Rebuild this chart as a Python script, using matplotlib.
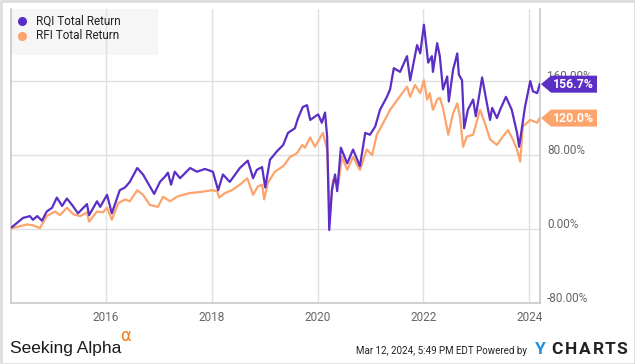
import matplotlib
matplotlib.use("Agg")
import matplotlib.pyplot as plt
from matplotlib.patches import Polygon, Rectangle
from matplotlib.transforms import IdentityTransform

plt.rcParams['font.family'] = ['Roboto', 'DejaVu Sans']

# data (decimal years, total return %)
rqi_x = [2014.22, 2014.43, 2014.56, 2014.62, 2014.70, 2014.79, 2014.88, 2014.98, 2015.07, 2015.17,
         2015.26, 2015.36, 2015.47, 2015.64, 2015.68, 2015.83, 2015.89, 2016.02, 2016.11, 2016.26,
         2016.36, 2016.45, 2016.59, 2016.70, 2016.79, 2016.91, 2017.02, 2017.12, 2017.17, 2017.23,
         2017.30, 2017.40, 2017.59, 2017.72, 2017.87, 2018.02, 2018.12, 2018.21, 2018.34, 2018.53,
         2018.68, 2018.78, 2018.85, 2018.95, 2019.01, 2019.10, 2019.23, 2019.35, 2019.44, 2019.57,
         2019.63, 2019.72, 2019.80, 2019.86, 2020.01, 2020.08, 2020.14, 2020.18, 2020.22, 2020.27,
         2020.33, 2020.37, 2020.44, 2020.56, 2020.67, 2020.80, 2020.90, 2020.99, 2021.09, 2021.18,
         2021.31, 2021.37, 2021.44, 2021.56, 2021.69, 2021.75, 2021.88, 2021.94, 2022.01, 2022.09,
         2022.16, 2022.18, 2022.26, 2022.31, 2022.37, 2022.45, 2022.48, 2022.56, 2022.64, 2022.67,
         2022.73, 2022.77, 2022.84, 2022.94, 2022.99, 2023.11, 2023.20, 2023.26, 2023.30, 2023.39,
         2023.45, 2023.56, 2023.67, 2023.77, 2023.81, 2023.92, 2024.02, 2024.07, 2024.15, 2024.20]
rqi_y = [2, 12, 14, 10, 14, 9, 19, 23, 34, 25,
         33, 26, 17, 27, 15, 30, 24, 37, 17, 42,
         45, 51, 66, 59, 50, 38, 51, 57, 61, 48,
         62, 55, 66, 62, 65, 62, 42, 59, 51, 66,
         74, 55, 64, 67, 45, 75, 84, 91, 104, 109,
         120, 132, 134, 118, 124, 115, 126, 100, -1, 42,
         59, 41, 88, 71, 86, 68, 104, 102, 111, 129,
         143, 151, 174, 170, 187, 161, 199, 190, 221, 180,
         187, 170, 201, 187, 151, 165, 138, 172, 190, 167,
         161, 109, 129, 140, 122, 164, 136, 118, 131, 120,
         129, 143, 129, 104, 89, 132, 160, 149, 147, 156.7]

rfi_x = [2014.22, 2014.37, 2014.51, 2014.62, 2014.75, 2014.88, 2015.04, 2015.13, 2015.26, 2015.38,
         2015.51, 2015.64, 2015.68, 2015.83, 2015.94, 2016.02, 2016.11, 2016.23, 2016.36, 2016.45,
         2016.59, 2016.70, 2016.83, 2016.98, 2017.08, 2017.21, 2017.34, 2017.46, 2017.59, 2017.78,
         2018.00, 2018.10, 2018.14, 2018.25, 2018.38, 2018.53, 2018.67, 2018.78, 2018.87, 2018.95,
         2018.99, 2019.06, 2019.19, 2019.35, 2019.48, 2019.61, 2019.71, 2019.76, 2019.86, 2019.95,
         2020.10, 2020.18, 2020.23, 2020.29, 2020.39, 2020.46, 2020.56, 2020.67, 2020.80, 2020.93,
         2021.03, 2021.12, 2021.27, 2021.37, 2021.46, 2021.60, 2021.69, 2021.75, 2021.84, 2021.94,
         2022.01, 2022.07, 2022.12, 2022.18, 2022.26, 2022.31, 2022.37, 2022.47, 2022.56, 2022.64,
         2022.69, 2022.75, 2022.82, 2022.94, 2023.07, 2023.16, 2023.26, 2023.39, 2023.50, 2023.60,
         2023.69, 2023.77, 2023.83, 2023.88, 2024.02, 2024.15, 2024.20]
rfi_y = [1, 3, 5, 4, 1, 14, 19, 15, 23, 16,
         14, 18, 8, 19, 18, 23, 10, 28, 32, 30,
         42, 37, 26, 24, 35, 30, 35, 37, 39, 40,
         42, 41, 34, 39, 42, 48, 55, 37, 46, 48,
         32, 50, 62, 68, 78, 82, 91, 88, 99, 89,
         104, 86, 14, 53, 48, 78, 64, 78, 64, 86,
         80, 102, 118, 129, 136, 147, 154, 143, 156, 147,
         161, 140, 147, 129, 140, 142, 131, 102, 125, 136,
         122, 89, 100, 102, 129, 115, 97, 91, 100, 107,
         97, 86, 73, 111, 118, 115, 120.0]

names = ['RQI Total Return', 'RFI Total Return']
colors = ['#5b2ec6', '#fda46c']
year_ticks = [2016, 2018, 2020, 2022, 2024]
y_ticks = [-80, 0, 80, 160]
y_labels = ['-80.00%', '0.00%', '80.00%', '160.00%']

W, H = 635, 364
fig = plt.figure(figsize=(W / 100, H / 100), dpi=100)
ax = fig.add_axes([11 / W, 61 / H, 529 / W, 294 / H])

ax.plot(rfi_x, rfi_y, color=colors[1], lw=1.6, zorder=3)
ax.plot(rqi_x, rqi_y, color=colors[0], lw=1.6, zorder=4)

ax.set_xlim(2014.204, 2024.204)
ax.set_ylim(-80, 238)
ax.set_xticks(year_ticks)
ax.set_xticklabels([str(y) for y in year_ticks])
ax.set_yticks(y_ticks)
ax.set_yticklabels([])
ax.tick_params(axis='x', length=0, pad=6, labelsize=8.5, labelcolor='#666666')
ax.tick_params(axis='y', length=0)
ax.grid(True, color='#e0e0e0', lw=1)
ax.set_axisbelow(True)
for s in ['left', 'bottom', 'right']:
    ax.spines[s].set_color('#c8c8c8')
    ax.spines[s].set_linewidth(1.2)
ax.spines['top'].set_visible(False)

# right tick labels (the top one sits behind the RQI tag, as in the original)
for v, lab in zip(y_ticks, y_labels):
    ax.annotate(lab, xy=(1, v), xycoords=('axes fraction', 'data'), xytext=(5, 3.5),
                textcoords='offset points', ha='left', va='center', fontsize=8.5,
                color='#666666', zorder=2, annotation_clip=False)

# legend box
ax.add_patch(Rectangle((11, H - 55), 147, 46, transform=IdentityTransform(),
                       facecolor='#f6f6f6', edgecolor='none', zorder=0.1))
for i, (n, c) in enumerate(zip(names, colors)):
    yy = H - 21 - i * 14.5
    fig.add_artist(plt.Line2D([22], [yy], marker='o', ms=5.5, color=c, mec=c,
                              transform=IdentityTransform()))
    fig.text(36 / W, yy / H, n, fontsize=8.5, color='#222222', va='center', ha='left')

# end value tags
fig.canvas.draw()
for yvals, c in [(rqi_y, colors[0]), (rfi_y, colors[1])]:
    v = yvals[-1]
    px, py = ax.transData.transform((ax.get_xlim()[1], v))
    x0 = px + 1
    poly = Polygon([(x0, py), (x0 + 10, py + 8.5), (x0 + 56, py + 8.5), (x0 + 56, py - 8.5),
                    (x0 + 10, py - 8.5)], closed=True, transform=IdentityTransform(),
                   facecolor=c, edgecolor='none', zorder=5)
    fig.add_artist(poly)
    fig.text((x0 + 32) / W, py / H, f'{v:.1f}%', fontsize=8.8, color='white',
             fontweight='bold', ha='center', va='center', zorder=6)

# footer
fig.text(10 / W, 11 / H, 'Seeking Alpha', fontsize=12.5, family='Liberation Sans',
         color='#1a1a1a', ha='left', va='baseline')
fig.text(120 / W, 23 / H, '\u03b1', fontsize=12, family='DejaVu Sans', color='#f07f1f',
         ha='left', va='baseline')
fig.text(527 / W, 13 / H, 'Mar 12, 2024, 5:49 PM EDT Powered by', fontsize=7.0,
         color='#222222', ha='right', va='center')
fig.text(540 / W, 14 / H, 'Y', fontsize=12.5, fontweight='bold', color='#1e93e6',
         ha='center', va='center')
for ch, cx in zip('CHARTS', [557, 571, 585, 598, 610, 622]):
    fig.text(cx / W, 14 / H, ch, fontsize=12.5, fontweight='bold', color='#222222',
             ha='center', va='center')

# outer frame
fig.add_artist(Rectangle((0.5, 0.5), W - 1, H - 1, transform=IdentityTransform(),
                         facecolor='none', edgecolor='#dddddd', lw=2))

fig.savefig('out.png', dpi=100)
